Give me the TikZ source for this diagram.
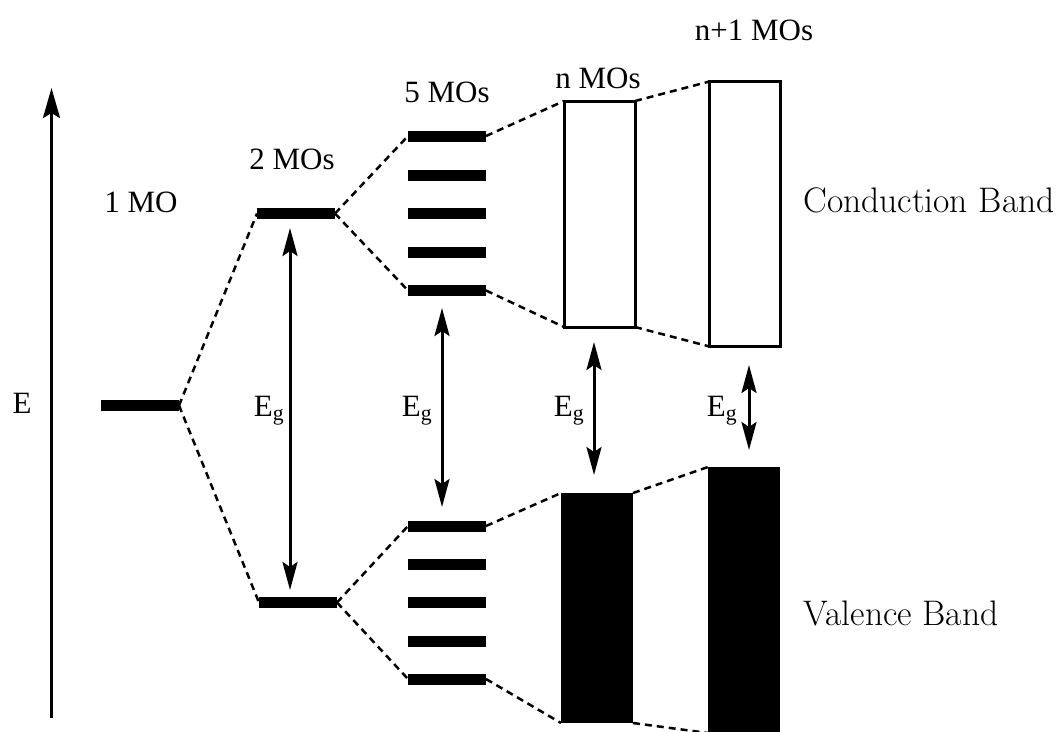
\documentclass[tikz,border=0pt]{standalone}
\usepackage{fontspec}
\newfontfamily\timesfont{Liberation Serif}
\usetikzlibrary{arrows.meta}
\tikzset{
  level/.style={fill=black, draw=none, minimum width=78pt, minimum height=11pt, inner sep=0pt, outer sep=0pt},
  emptyband/.style={draw=black, line width=3pt, fill=white, inner sep=0pt, outer sep=0pt},
  fullband/.style={fill=black, draw=none, inner sep=0pt, outer sep=0pt},
  link/.style={line width=2.5pt, dash pattern=on 7pt off 5pt},
  gap/.style={line width=3pt, {Stealth[length=28pt,width=15pt,inset=5pt]}-{Stealth[length=28pt,width=15pt,inset=5pt]}},
  axisline/.style={line width=3pt, -{Stealth[length=30pt,width=17pt,inset=5pt]}},
  lbl/.style={font=\timesfont\fontsize{31}{34}\selectfont, inner sep=0pt},
  bandlbl/.style={font=\fontsize{35.5}{40}\selectfont, inner sep=0pt},
}
\begin{document}
\begin{tikzpicture}[x=1pt,y=-1pt]
\useasboundingbox (0,0) rectangle (1059,731);

% energy axis
\coordinate (ebot) at (51.5,718);
\coordinate (etop) at (51.5,88);
\draw[axisline] (ebot) -- (etop);
\node[lbl] (elabel) at (22,403) {E};

% single orbital
\node[level] (a1) at (140,405.5) {};
\node[lbl] (t1) at (141,202) {1 MO};

% two orbitals
\node[level] (b1) at (296,213.5) {};
\node[level] (b2) at (298,602.5) {};
\node[lbl] (t2) at (292,159) {2 MOs};

% five orbitals
\foreach \i/\y in {1/136,2/175,3/213.5,4/252.5,5/290.5,6/526,7/564,8/602.5,9/641,10/679}
  \node[level] (c\i) at (447,\y) {};
\node[lbl] (t5) at (447,92) {5 MOs};

% n orbitals: bands
\node[emptyband, minimum width=71pt, minimum height=226pt] (nc) at (599.5,214) {};
\node[fullband, minimum width=72pt, minimum height=230pt] (nv) at (597,608) {};
\node[lbl] (tn) at (598,78) {n MOs};

% n+1 orbitals: bands
\node[emptyband, minimum width=71pt, minimum height=265pt] (mc) at (745,214) {};
\node[fullband, minimum width=72pt, minimum height=266pt] (mv) at (744,600) {};
\node[lbl] (tm) at (754,30) {n+1 MOs};

% correlation lines
\draw[link] (a1.east) -- (b1.west);
\draw[link] (a1.east) -- (b2.west);
\draw[link] (b1.east) -- (c1.west);
\draw[link] (b1.east) -- (c5.west);
\draw[link] (b2.east) -- (c6.west);
\draw[link] (b2.east) -- (c10.west);
\draw[link] (c1.east) -- (nc.north west);
\draw[link] (c5.east) -- (nc.south west);
\draw[link] (c6.east) -- (nv.north west);
\draw[link] (c10.east) -- (nv.south west);
\draw[link] (nc.north east) -- (mc.north west);
\draw[link] (nc.south east) -- (mc.south west);
\draw[link] (nv.north east) -- (mv.north west);
\draw[link] (nv.south east) -- (mv.south west);

% band gaps
\draw[gap, shorten <=9pt, shorten >=7pt] ([xshift=-6pt]b1.south) -- ([xshift=-8pt]b2.north);
\node[lbl] (g1) at (269,411) {E\textsubscript{g}};
\draw[gap, shorten <=12pt, shorten >=13.5pt] ([xshift=-5pt]c5.south) -- ([xshift=-5pt]c6.north);
\node[lbl] (g2) at (417,411) {E\textsubscript{g}};
\draw[gap, shorten <=15pt, shorten >=18pt] ([xshift=-5.5pt]nc.south) -- ([xshift=-3pt]nv.north);
\node[lbl] (g3) at (569,411) {E\textsubscript{g}};
\draw[gap, shorten <=18.5pt, shorten >=17pt] ([xshift=4pt]mc.south) -- ([xshift=5pt]mv.north);
\node[lbl] (g4) at (722,411) {E\textsubscript{g}};

% band names
\node[bandlbl] (cb) at (929,200) {Conduction Band};
\node[bandlbl] (vb) at (901,613) {Valence Band};
\end{tikzpicture}
\end{document}
